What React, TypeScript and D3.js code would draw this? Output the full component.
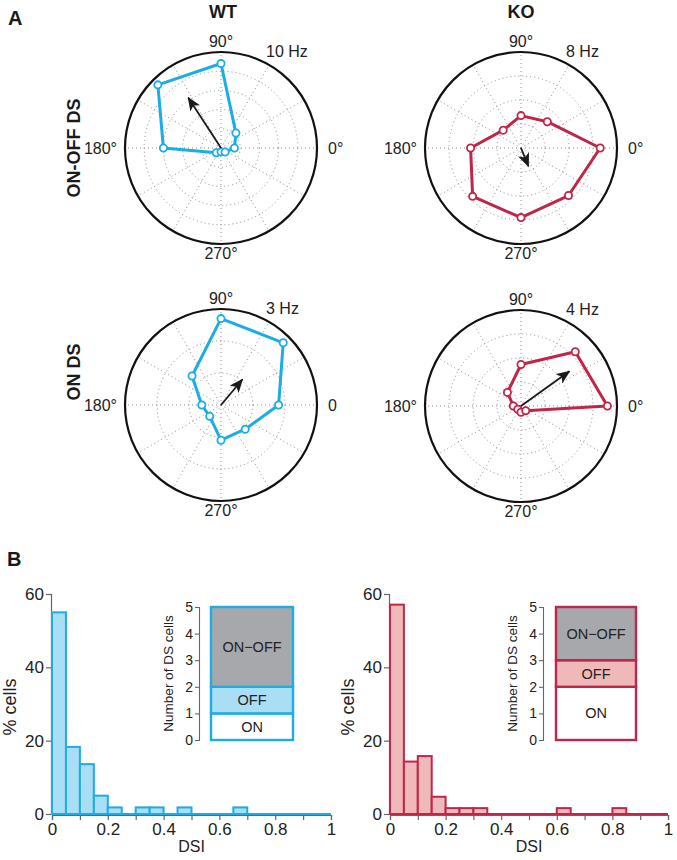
import React, { useEffect, useRef } from "react";
import * as d3 from "d3";

// directions (deg) of the 8 stimuli
const directions = [0, 45, 90, 135, 180, 225, 270, 315];

// firing rates (Hz) per direction
const wtOnOff = [1.4, 2.2, 8.8, 9.3, 6.0, 0.7, 0.4, 0.6];
const koOnOff = [6.6, 3.1, 2.7, 2.1, 4.2, 5.7, 5.8, 5.6];
const wtOn = [1.8, 2.75, 2.7, 1.28, 0.6, 0.5, 1.1, 1.07];
const koOn = [3.6, 3.2, 1.73, 0.8, 0.32, 0.19, 0.26, 0.28];

// vector sums [angle deg, length Hz]
const wtOnOffVec = [123, 6.25];
const koOnOffVec = [292, 1.64];
const wtOnVec = [50, 1.04];
const koOnVec = [35.6, 2.48];

// radial max and ring step
const radialMax = [10, 8, 3, 4];
const ringStep = [2, 2, 1, 1];
const maxLabels = ["10 Hz", "8 Hz", "3 Hz", "4 Hz"];
const zeroLabels = ["0°", "0°", "0", "0°"];

// DSI histograms, bins of 0.05 from 0 to 1 (% cells)
const binEdges = d3.range(0, 1.0001, 0.05);
const wtHist = [55, 18.3, 13.6, 5, 1.8, 0, 1.8, 1.8, 0, 1.8, 0, 0, 0, 1.8, 0, 0, 0, 0, 0, 0];
const koHist = [57.1, 14.3, 15.8, 4.7, 1.6, 1.6, 1.6, 0, 0, 0, 0, 0, 1.6, 0, 0, 0, 1.6, 0, 0, 0];

// number of DS cells per type
const cellTypes = ["ON", "OFF", "ON\u2212OFF"];
const wtCells = [1, 1, 3];
const koCells = [2, 1, 2];

const BLUE = "#1badE4";
const BLUE_FILL = "#a9def5";
const RED = "#c0254a";
const RED_FILL = "#efb9b9";
const GREY_FILL = "#a7a8ab";
const FONT = "Arial, 'Liberation Sans', Helvetica, sans-serif";

export default function App() {
  const ref = useRef<SVGSVGElement>(null);

  useEffect(() => {
    const svg = d3.select(ref.current);
    svg.selectAll("*").remove();
    svg.style("font-family", FONT);

    const defs = svg.append("defs");
    defs
      .append("marker")
      .attr("id", "head")
      .attr("markerUnits", "userSpaceOnUse")
      .attr("viewBox", "0 0 12 10")
      .attr("refX", 11)
      .attr("refY", 5)
      .attr("markerWidth", 14)
      .attr("markerHeight", 12)
      .attr("orient", "auto")
      .append("path")
      .attr("d", "M0,0 L12,5 L0,10 L3,5 Z")
      .attr("fill", "#1a1a1a");

    // ---------- A: polar plots ----------
    const panels = [
      { cx: 221, cy: 148, data: wtOnOff, vec: wtOnOffVec, color: BLUE },
      { cx: 521, cy: 148, data: koOnOff, vec: koOnOffVec, color: RED },
      { cx: 221, cy: 405, data: wtOn, vec: wtOnVec, color: BLUE },
      { cx: 521, cy: 406, data: koOn, vec: koOnVec, color: RED },
    ];
    const R = 96;

    panels.forEach((p, i) => {
      const g = svg.append("g").attr("transform", `translate(${p.cx},${p.cy})`);
      const r = d3.scaleLinear().domain([0, radialMax[i]]).range([0, R]);
      const rings = d3.range(ringStep[i], radialMax[i], ringStep[i]);

      g.selectAll(".ring")
        .data(rings)
        .enter()
        .append("circle")
        .attr("r", (d) => r(d))
        .attr("fill", "none")
        .attr("stroke", "#8c8c8c")
        .attr("stroke-width", 1)
        .attr("stroke-dasharray", "1,3");

      g.selectAll(".spoke")
        .data(d3.range(0, 360, 30))
        .enter()
        .append("line")
        .attr("x1", 0)
        .attr("y1", 0)
        .attr("x2", (d) => R * Math.cos((d * Math.PI) / 180))
        .attr("y2", (d) => -R * Math.sin((d * Math.PI) / 180))
        .attr("stroke", "#8c8c8c")
        .attr("stroke-width", 1)
        .attr("stroke-dasharray", "1,3");

      g.append("circle").attr("r", R).attr("fill", "none").attr("stroke", "#111").attr("stroke-width", 2.2);

      const pts = directions.map((a, k) => [a, p.data[k]] as [number, number]);
      const line = d3
        .lineRadial<[number, number]>()
        .angle((d) => Math.PI / 2 - (d[0] * Math.PI) / 180)
        .radius((d) => r(d[1]))
        .curve(d3.curveLinearClosed);

      g.append("path")
        .attr("d", line(pts))
        .attr("fill", "none")
        .attr("stroke", p.color)
        .attr("stroke-width", 3)
        .attr("stroke-linejoin", "round");

      g.selectAll(".pt")
        .data(pts)
        .enter()
        .append("circle")
        .attr("cx", (d) => r(d[1]) * Math.cos((d[0] * Math.PI) / 180))
        .attr("cy", (d) => -r(d[1]) * Math.sin((d[0] * Math.PI) / 180))
        .attr("r", 3.6)
        .attr("fill", "white")
        .attr("stroke", p.color)
        .attr("stroke-width", 1.8);

      const va = (p.vec[0] * Math.PI) / 180;
      g.append("line")
        .attr("x1", 0)
        .attr("y1", 0)
        .attr("x2", r(p.vec[1]) * Math.cos(va))
        .attr("y2", -r(p.vec[1]) * Math.sin(va))
        .attr("stroke", "#1a1a1a")
        .attr("stroke-width", 1.8)
        .attr("marker-end", "url(#head)");

      const lab = (x: number, y: number, t: string, anchor = "middle") =>
        g.append("text").attr("x", x).attr("y", y).attr("text-anchor", anchor)
          .attr("font-size", 16).attr("fill", "#222").text(t);
      lab(0, -101, "90°");
      lab(0, 111, "270°");
      lab(-104, 6, "180°", "end");
      lab(107, 6, zeroLabels[i], "start");
      lab(45, -91, maxLabels[i], "start");
    });

    const bold = (x: number, y: number, t: string, size: number, rot = false) => {
      const tx = svg.append("text")
        .attr("font-size", size)
        .attr("font-weight", "bold")
        .attr("fill", "#1a1a1a")
        .attr("text-anchor", rot ? "middle" : "start")
        .text(t);
      if (rot) tx.attr("transform", `translate(${x},${y}) rotate(-90)`);
      else tx.attr("x", x).attr("y", y);
      return tx;
    };
    bold(8, 25, "A", 20);
    bold(7, 566, "B", 20);
    bold(223, 18, "WT", 18).attr("text-anchor", "middle");
    bold(521, 18, "KO", 18).attr("text-anchor", "middle");
    bold(80, 148, "ON-OFF DS", 18, true);
    bold(80, 372, "ON DS", 18, true);

    // ---------- B: histograms ----------
    const hists = [
      { x0: 52, x1: 331, data: wtHist, color: BLUE, fill: BLUE_FILL, cells: wtCells, ix: 199, bx0: 211, bx1: 293 },
      { x0: 390, x1: 668, data: koHist, color: RED, fill: RED_FILL, cells: koCells, ix: 543, bx0: 556, bx1: 636 },
    ];

    hists.forEach((h) => {
      const g = svg.append("g");
      const x = d3.scaleLinear().domain([0, 1]).range([h.x0, h.x1]);
      const y = d3.scaleLinear().domain([0, 60]).range([814, 594]);

      const yAxis = g.append("g")
        .attr("transform", `translate(${h.x0 - 1},0)`)
        .call(d3.axisLeft(y).tickValues([0, 20, 40, 60]).tickSize(5).tickPadding(2));
      const xAxis = g.append("g")
        .attr("transform", `translate(0,815)`)
        .call(d3.axisBottom(x).ticks(10).tickSize(5).tickPadding(3)
          .tickFormat((d) => Math.round((d as number) * 10) % 2 === 0 ? d3.format("~g")(d as number) : ""));
      [yAxis, xAxis].forEach((ax) => {
        ax.selectAll("path").attr("stroke", "#666").attr("stroke-width", 1.2);
        ax.selectAll("line").attr("stroke", "#666").attr("stroke-width", 1.2);
        ax.selectAll("text").attr("font-size", 17).attr("fill", "#222").attr("font-family", FONT);
      });

      const bins = h.data.map((v, k) => ({ a: binEdges[k], b: binEdges[k + 1], v }));
      g.selectAll(".bar")
        .data(bins.filter((d) => d.v > 0))
        .enter()
        .append("rect")
        .attr("x", (d) => x(d.a))
        .attr("y", (d) => y(d.v))
        .attr("width", (d) => x(d.b) - x(d.a))
        .attr("height", (d) => y(0) - y(d.v))
        .attr("fill", h.fill)
        .attr("stroke", h.color)
        .attr("stroke-width", 2);
      g.append("line")
        .attr("x1", x(0)).attr("x2", x(1))
        .attr("y1", y(0)).attr("y2", y(0))
        .attr("stroke", h.color).attr("stroke-width", 2.2);

      g.append("text")
        .attr("x", (h.x0 + h.x1) / 2).attr("y", 852)
        .attr("text-anchor", "middle").attr("font-size", 16).attr("fill", "#222").text("DSI");
      g.append("text")
        .attr("transform", `translate(${h.x0 - 36},707) rotate(-90)`)
        .attr("text-anchor", "middle").attr("font-size", 18).attr("fill", "#222").text("% cells");

      // inset: stacked bar
      const iy = d3.scaleLinear().domain([0, 5]).range([740, 607]);
      const ia = g.append("g")
        .attr("transform", `translate(${h.ix},0)`)
        .call(d3.axisLeft(iy).ticks(5).tickSize(4).tickPadding(2));
      ia.selectAll("path").attr("stroke", "#666").attr("stroke-width", 1.1);
      ia.selectAll("line").attr("stroke", "#666").attr("stroke-width", 1.1);
      ia.selectAll("text").attr("font-size", 14).attr("fill", "#222").attr("font-family", FONT);
      g.append("text")
        .attr("transform", `translate(${h.ix - 26},${iy(2.5)}) rotate(-90)`)
        .attr("text-anchor", "middle").attr("font-size", 13.5).attr("fill", "#222").text("Number of DS cells");

      const fills = ["white", h.fill, GREY_FILL];
      let acc = 0;
      const segs = h.cells.map((c, k) => {
        const s = { lo: acc, hi: acc + c, fill: fills[k], label: cellTypes[k] };
        acc += c;
        return s;
      });
      g.selectAll(".seg")
        .data(segs)
        .enter()
        .append("rect")
        .attr("x", h.bx0)
        .attr("width", h.bx1 - h.bx0)
        .attr("y", (d) => iy(d.hi))
        .attr("height", (d) => iy(d.lo) - iy(d.hi))
        .attr("fill", (d) => d.fill)
        .attr("stroke", h.color)
        .attr("stroke-width", 2.4);
      g.selectAll(".segl")
        .data(segs)
        .enter()
        .append("text")
        .attr("x", (h.bx0 + h.bx1) / 2)
        .attr("y", (d) => (iy(d.lo) + iy(d.hi)) / 2 + 5)
        .attr("text-anchor", "middle")
        .attr("font-size", 14.5)
        .attr("fill", "#222")
        .text((d) => d.label);
    });
  }, []);

  return (
    <svg
      ref={ref}
      width={677}
      height={860}
      style={{ position: "absolute", left: 0, top: 0, background: "white" }}
    />
  );
}
